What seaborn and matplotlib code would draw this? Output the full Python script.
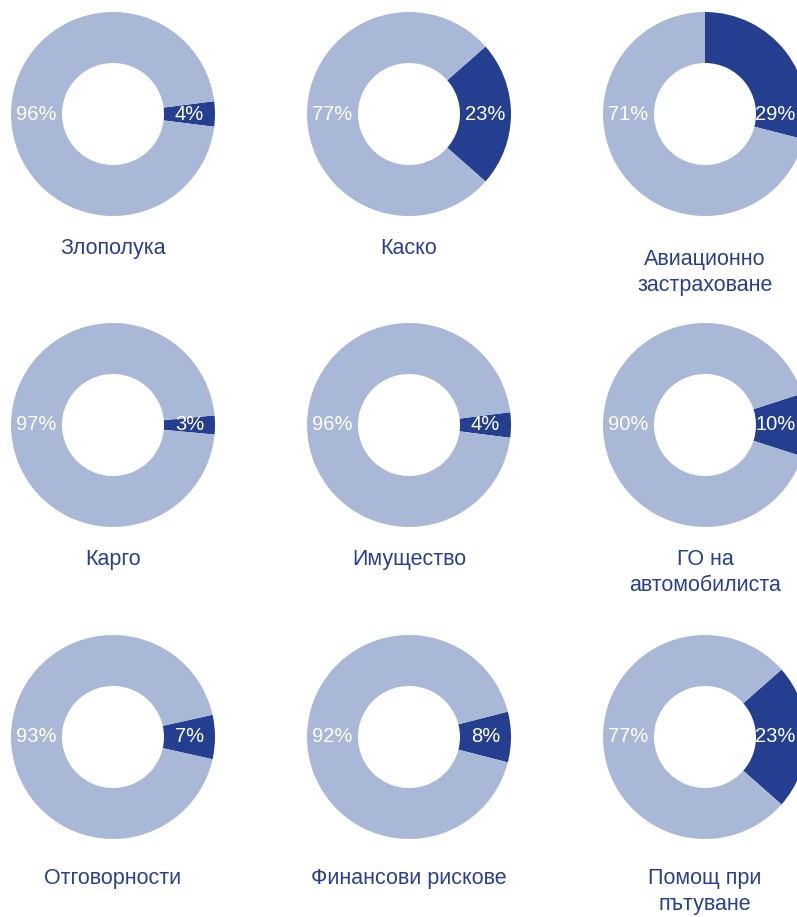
import matplotlib
matplotlib.use("Agg")
import matplotlib.pyplot as plt
import seaborn as sns

# Данни
categories = ['Злополука', 'Каско', 'Авиационно\nзастраховане',
              'Карго', 'Имущество', 'ГО на\nавтомобилиста',
              'Отговорности', 'Финансови рискове', 'Помощ при\nпътуване']
share_dark = [4, 23, 29, 3, 4, 10, 7, 8, 23]
share_light = [96, 77, 71, 97, 96, 90, 93, 92, 77]

sns.set_theme(style="white")
plt.rcParams['font.family'] = ['Liberation Sans', 'DejaVu Sans']

DARK = '#243f8f'
LIGHT = '#a9b8d7'
TXT = '#2a3f91'

W, H = 797, 917
fig = plt.figure(figsize=(W / 100, H / 100), dpi=100)
fig.patch.set_facecolor('white')

col_x = [113, 409, 705]
row_y = [114, 425, 737]
title_y = [247, 558, 877]
R = 102

for i, name in enumerate(categories):
    r, c = divmod(i, 3)
    cx, cy = col_x[c], row_y[r]
    ax = fig.add_axes([(cx - R) / W, (H - cy - R) / H, 2 * R / W, 2 * R / H])
    d, l = share_dark[i], share_light[i]
    if i == 2:
        # тъмният сегмент започва отгоре
        ax.pie([d, l], colors=[DARK, LIGHT], startangle=90, counterclock=False,
               radius=1, wedgeprops=dict(width=0.5, linewidth=0))
    else:
        ax.pie([d, l], colors=[DARK, LIGHT], startangle=-d * 1.8,
               radius=1, wedgeprops=dict(width=0.5, linewidth=0))
    ax.set_xlim(-1, 1)
    ax.set_ylim(-1, 1)
    ax.set_axis_off()
    rx = 0.69 if c == 2 else 0.75
    ax.text(rx, 0, f'{d}%', color='white', fontsize=14.5, ha='center', va='center')
    ax.text(-0.75, 0, f'{l}%', color='white', fontsize=14.5, ha='center', va='center')

    ty = title_y[r] + (11 if i == 2 else 0)
    fig.text(cx / W, 1 - (ty - 9) / H, name, color=TXT, fontsize=15.5,
             ha='center', va='top', linespacing=1.33)

fig.savefig('out.png', dpi=100)
